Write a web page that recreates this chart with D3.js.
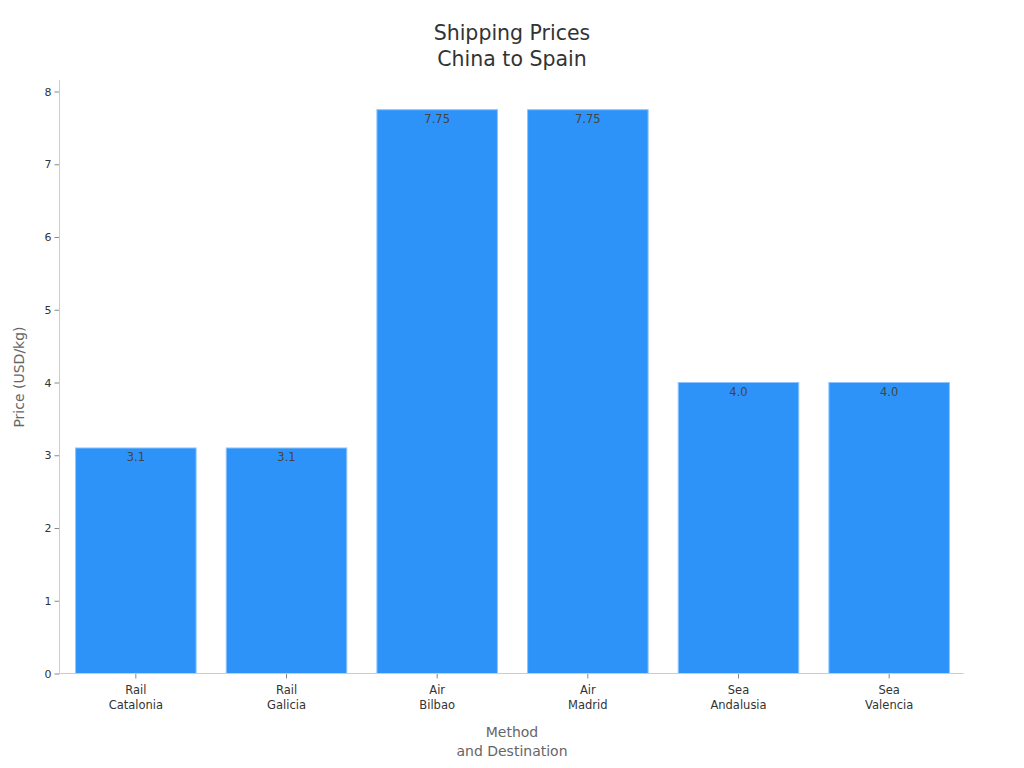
<!DOCTYPE html>
<html><head><meta charset="utf-8">
<script src="https://cdn.jsdelivr.net/npm/d3@7"></script>
<style>body{margin:0;background:#fff;font-family:"DejaVu Sans",sans-serif;}</style>
</head><body><svg id="c" width="1024" height="768"></svg>
<script>
const methods = ["Rail","Rail","Air","Air","Sea","Sea"];
const destinations = ["Catalonia","Galicia","Bilbao","Madrid","Andalusia","Valencia"];
const prices = [3.1, 3.1, 7.75, 7.75, 4.0, 4.0];
const priceLabels = ["3.1","3.1","7.75","7.75","4.0","4.0"];
const yTicks = [0,1,2,3,4,5,6,7,8];

const svg = d3.select("#c");
const L = 59.5, R = 963.5, T = 80, B = 673.5;
const keys = destinations.map((d,i)=>i);
const x = d3.scaleBand().domain(keys).range([L+1,R+1]).paddingInner(0.2).paddingOuter(0.1);
const y = d3.scaleLinear().domain([0,8]).range([B,91.5]);

svg.append("text").attr("x",512).attr("y",40).attr("text-anchor","middle")
  .attr("font-size",20.5).attr("fill","#333").text("Shipping Prices");
svg.append("text").attr("x",512).attr("y",66).attr("text-anchor","middle")
  .attr("font-size",20.5).attr("fill","#333").text("China to Spain");

svg.selectAll("rect.bar").data(prices).join("rect").attr("class","bar")
  .attr("x",(d,i)=>x(i)).attr("width",x.bandwidth())
  .attr("y",d=>y(d)).attr("height",d=>B-y(d))
  .attr("fill","#2e93f9").attr("stroke","#8cc4fb").attr("stroke-width",1);

svg.selectAll("text.val").data(prices).join("text").attr("class","val")
  .attr("x",(d,i)=>x(i)+x.bandwidth()/2).attr("y",d=>y(d)+13)
  .attr("text-anchor","middle").attr("font-size",11.5).attr("fill","#444")
  .text((d,i)=>priceLabels[i]);

// y axis
const ya = svg.append("g").attr("transform",`translate(${L},0)`)
  .call(d3.axisLeft(y).tickValues(yTicks).tickSize(5).tickPadding(3).tickFormat(d3.format("d")));
ya.select(".domain").remove();
ya.append("line").attr("x1",0).attr("x2",0).attr("y1",T).attr("y2",B).attr("stroke","#ccc");
ya.selectAll(".tick line").attr("stroke","#888");
ya.selectAll(".tick text").attr("font-size",11).attr("fill","#333").attr("font-family","DejaVu Sans");

// x axis
const xa = svg.append("g").attr("transform",`translate(0,${B})`)
  .call(d3.axisBottom(x).tickSize(5).tickFormat(""));
xa.select(".domain").remove();
xa.append("line").attr("x1",L).attr("x2",R).attr("y1",0).attr("y2",0).attr("stroke","#ccc");
xa.selectAll(".tick line").attr("stroke","#888");
xa.selectAll(".tick").each(function(d){
  const t = d3.select(this).append("text").attr("fill","#333").attr("font-size",11.5)
    .attr("text-anchor","middle").attr("font-family","DejaVu Sans");
  t.append("tspan").attr("x",0).attr("y",20).text(methods[d]);
  t.append("tspan").attr("x",0).attr("y",35).text(destinations[d]);
});

svg.append("text").attr("x",512).attr("y",737).attr("text-anchor","middle")
  .attr("font-size",14).attr("fill","#666").text("Method");
svg.append("text").attr("x",512).attr("y",756).attr("text-anchor","middle")
  .attr("font-size",14).attr("fill","#666").text("and Destination");
svg.append("text").attr("transform","translate(24,377) rotate(-90)").attr("text-anchor","middle")
  .attr("font-size",14).attr("fill","#666").text("Price (USD/kg)");
</script></body></html>
